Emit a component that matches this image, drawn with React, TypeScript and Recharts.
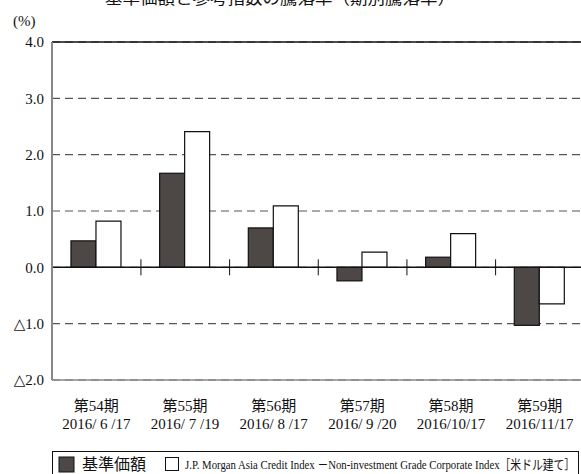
import { BarChart, Bar, XAxis, YAxis, CartesianGrid, ReferenceLine, Rectangle } from 'recharts';

// 期別騰落率（%）
const periods = ['第54期', '第55期', '第56期', '第57期', '第58期', '第59期'];
const dates = ['2016/ 6 /17', '2016/ 7 /19', '2016/ 8 /17', '2016/ 9 /20', '2016/10/17', '2016/11/17'];
const fundReturns = [0.47, 1.67, 0.7, -0.24, 0.18, -1.03];
const indexReturns = [0.82, 2.41, 1.09, 0.27, 0.6, -0.65];
const yTicks = [-2, -1, 0, 1, 2, 3, 4];

const FONT = '"Times New Roman", "Liberation Serif", "DejaVu Serif", "Noto Sans CJK JP", serif';
const DARK = '#4d4846';
const GAP = 0.214;

const data = periods.map((p, i) => ({
  period: p,
  date: dates[i],
  fund: fundReturns[i],
  index: indexReturns[i],
}));

const fmtY = (v: number) => (v < 0 ? '△' + Math.abs(v).toFixed(1) : v.toFixed(1));

function XTick(props: any) {
  const { x, y, payload, index } = props;
  return (
    <g>
      <text x={x} y={y + 23} textAnchor="middle" fontSize={15} fontFamily={FONT} fill="#111">
        {payload.value}
      </text>
      <text x={x} y={y + 41} textAnchor="middle" fontSize={15} fontFamily={FONT} fill="#111">
        {dates[index]}
      </text>
    </g>
  );
}

// 基準価額の棒 + 期の区切り目盛（0%線上）
function FundBar(props: any) {
  const { x, y, width, height, value, index } = props;
  const v = Array.isArray(value) ? value[1] : value;
  const base = v < 0 && height >= 0 ? y : y + height;
  const top = Math.min(y, y + height);
  const h = Math.abs(height);
  const center = x + width;
  const left = center - width / (1 - 2 * GAP);
  return (
    <g>
      <rect x={x} y={top} width={width} height={h} fill={DARK} stroke="#111" strokeWidth={1.2} />
      {index > 0 && <line x1={left} x2={left} y1={base - 8} y2={base + 8} stroke="#111" strokeWidth={1} />}
    </g>
  );
}

export default function App() {
  return (
    <div style={{ position: 'absolute', left: 0, top: 0, width: 581, height: 474, overflow: 'hidden', background: '#fff' }}>
      <BarChart
        width={600}
        height={474}
        data={data}
        margin={{ top: 42, right: 16, bottom: 0, left: 0 }}
        barCategoryGap={`${GAP * 100}%`}
        barGap={0}
      >
        <CartesianGrid vertical={false} stroke="#555" strokeDasharray="8 5" strokeWidth={1.2} />
        <YAxis
          type="number"
          domain={[-2, 4]}
          ticks={yTicks}
          width={52}
          tickFormatter={fmtY}
          tickLine={false}
          axisLine={{ stroke: '#888', strokeWidth: 2 }}
          tick={{ fontSize: 15, fontFamily: FONT, fill: '#111' }}
          interval={0}
        />
        <XAxis
          dataKey="period"
          height={94}
          interval={0}
          tickLine={false}
          axisLine={{ stroke: '#888', strokeWidth: 1.5 }}
          tick={<XTick />}
        />
        <ReferenceLine y={4} stroke="#111" strokeWidth={1.5} />
        <Bar dataKey="fund" isAnimationActive={false} shape={<FundBar />} />
        <Bar
          dataKey="index"
          isAnimationActive={false}
          shape={(p: any) => <Rectangle {...p} fill="#fff" stroke="#111" strokeWidth={1.2} />}
        />
        <ReferenceLine y={0} stroke="#111" strokeWidth={1.5} />
      </BarChart>
      <svg width={581} height={474} style={{ position: 'absolute', left: 0, top: 0, pointerEvents: 'none' }}>
        <text x={105} y={4} fontSize={16} fontFamily={FONT} fill="#111" textLength={350} lengthAdjust="spacingAndGlyphs">
          基準価額と参考指数の騰落率（期別騰落率）
        </text>
        <text x={13} y={26} fontSize={15} fontFamily={FONT} fill="#111">
          (%)
        </text>
        <rect x={52.5} y={451.5} width={526} height={40} fill="none" stroke="#111" strokeWidth={1} />
        <rect x={59} y={457} width={15} height={15} fill={DARK} stroke="#111" strokeWidth={1} />
        <text x={82} y={470} fontSize={16} fontFamily={FONT} fill="#111">
          基準価額
        </text>
        <rect x={165.5} y={457.5} width={13} height={13} fill="#fff" stroke="#111" strokeWidth={1} />
        <text x={185} y={469} fontSize={13} fontFamily={FONT} fill="#111" textLength={390} lengthAdjust="spacingAndGlyphs">
          J.P. Morgan Asia Credit Index －Non-investment Grade Corporate Index［米ドル建て］
        </text>
      </svg>
    </div>
  );
}
